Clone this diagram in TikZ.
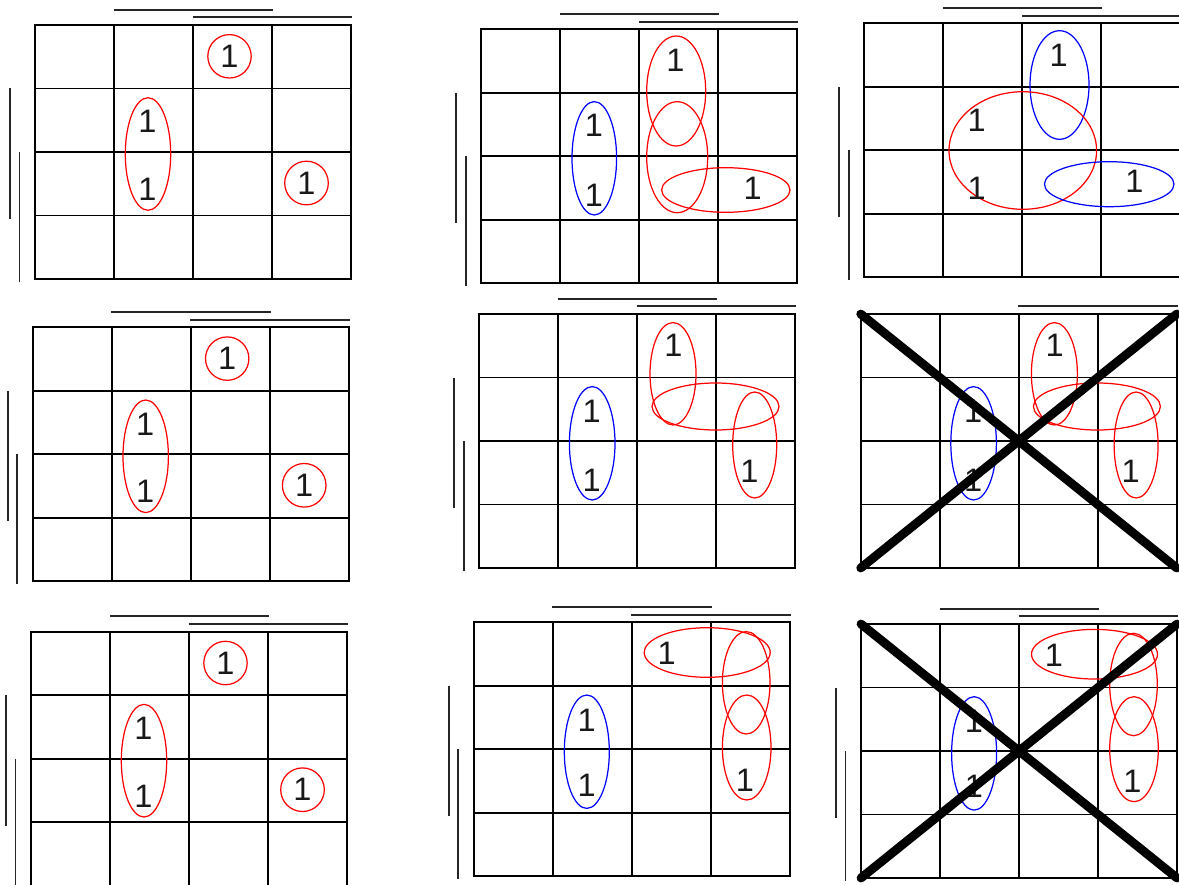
\documentclass[tikz,border=0pt]{standalone}
\usepackage{fontspec}
\setmainfont{Liberation Sans}
\usepackage{xcolor}
\usepackage{tikz}
\definecolor{groupred}{RGB}{255,0,0}
\definecolor{groupblue}{RGB}{0,0,255}

\begin{document}
\begin{tikzpicture}[x=0.02cm, y=-0.02cm,
    gridline/.style={line width=1pt, black},
    kbar/.style={line width=1.1pt, black!85},
    redloop/.style={draw=groupred, line width=0.7pt},
    blueloop/.style={draw=groupblue, line width=0.7pt},
    crossline/.style={line width=5pt, line cap=round, black},
    one/.style={inner sep=0pt, text=black!90, font=\fontsize{18.5}{20}\selectfont}]
  \useasboundingbox[fill=white] (0,0) rectangle (1179,885);
  \def \cw{79}
  \def \ch{63.5}
  % the nine 4x4 grids
  \foreach \ox/\oy in {35/25, 481.3/29.3, 864.3/23.3, 32.7/327.3, 479.3/314, 860.7/314, 31/631.7, 473.7/622.3, 861/624} {
    \begin{scope}[shift={(\ox,\oy)}]
      \draw[gridline] (0,0) rectangle (4*\cw,4*\ch);
      \foreach \i in {1,2,3} {
        \draw[gridline] (\i*\cw,0) -- (\i*\cw,4*\ch);
        \draw[gridline] (0,\i*\ch) -- (4*\cw,\i*\ch);
      }
    \end{scope}
  }
  % variable bars
  \foreach \ox/\oy in {35/25, 481.3/29.3, 864.3/23.3, 32.7/327.3, 479.3/314, 31/631.7, 473.7/622.3, 861/624} {
    \begin{scope}[shift={(\ox,\oy)}]
      \draw[kbar] (78.5,-15.3) -- (238,-15.3);
      \draw[kbar] (157.5,-7.6) -- (317,-7.6);
      \draw[kbar] (-25,63.5) -- (-25,194);
      \draw[kbar] (-15.5,127) -- (-15.5,257);
    \end{scope}
  }
  \begin{scope}[shift={(860.7,314)}]
    \draw[kbar] (157.5,-7.6) -- (317,-7.6);
  \end{scope}
  % left column
  \foreach \ox/\oy/\m in {35/25/1, 32.7/327.3/4, 31/631.7/7} {
    \begin{scope}[shift={(\ox,\oy)}]
      \draw[redloop] (194.5,31.3) circle [radius=21.7];
      \draw[redloop] (113,129) ellipse [x radius=22.7, y radius=56.3];
      \draw[redloop] (271.5,158) circle [radius=21.8];
      \node[one] (m\m-a) at (194.5,31.3) {1};
      \node[one] (m\m-b) at (112.5,96.8) {1};
      \node[one] (m\m-c) at (112.5,164.5) {1};
      \node[one] (m\m-d) at (271.5,158) {1};
    \end{scope}
  }
  % map 2
  \begin{scope}[shift={(481.3,29.3)}]
    \draw[redloop] (194.9,61.7) ellipse [x radius=29.5, y radius=55];
    \draw[redloop] (195.9,127.9) ellipse [x radius=30.5, y radius=55.5];
    \draw[redloop] (244.5,160.7) ellipse [x radius=64.2, y radius=22.3];
    \draw[blueloop] (113,129) ellipse [x radius=22.3, y radius=56.7];
    \node[one] (m2-a) at (194,30.7) {1};
    \node[one] (m2-b) at (112.7,95.7) {1};
    \node[one] (m2-c) at (112.7,165.7) {1};
    \node[one] (m2-d) at (271.4,159) {1};
  \end{scope}
  % map 3
  \begin{scope}[shift={(864.3,23.3)}]
    \draw[blueloop] (195.2,61.7) ellipse [x radius=29.5, y radius=54.3];
    \draw[redloop] (158.5,127.2) ellipse [x radius=73.8, y radius=58.8];
    \draw[blueloop] (244.9,160.9) ellipse [x radius=64.8, y radius=22.5];
    \node[one] (m3-a) at (194.4,31.7) {1};
    \node[one] (m3-b) at (112.4,96.7) {1};
    \node[one] (m3-c) at (112.4,165) {1};
    \node[one] (m3-d) at (270,158.4) {1};
  \end{scope}
  % maps 5 and 6
  \foreach \ox/\oy/\m in {479.3/314/5, 860.7/314/6} {
    \begin{scope}[shift={(\ox,\oy)}]
      \draw[redloop] (193.7,59.8) ellipse [x radius=23, y radius=51.2];
      \draw[redloop] (236.2,92.5) ellipse [x radius=63.5, y radius=23.5];
      \draw[redloop] (275.4,131) ellipse [x radius=22, y radius=53];
      \draw[blueloop] (112.9,129.3) ellipse [x radius=22.8, y radius=56.7];
      \node[one] (m\m-a) at (194,31) {1};
      \node[one] (m\m-b) at (112.4,97.7) {1};
      \node[one] (m\m-c) at (112.4,166) {1};
      \node[one] (m\m-d) at (270,157.7) {1};
    \end{scope}
  }
  % maps 8 and 9
  \foreach \ox/\oy/\m in {473.7/622.3/8, 861/624/9} {
    \begin{scope}[shift={(\ox,\oy)}]
      \draw[redloop] (233.5,30.2) ellipse [x radius=63, y radius=24.8];
      \draw[redloop] (272.5,60.5) ellipse [x radius=23.8, y radius=51.2];
      \draw[redloop] (273,125.2) ellipse [x radius=24.3, y radius=52.5];
      \draw[blueloop] (113.1,129.4) ellipse [x radius=22.5, y radius=56.7];
      \node[one] (m\m-a) at (193,31) {1};
      \node[one] (m\m-b) at (113,97.7) {1};
      \node[one] (m\m-c) at (113,162.7) {1};
      \node[one] (m\m-d) at (271.3,157.7) {1};
    \end{scope}
  }
  % crossed out
  \foreach \ox/\oy in {860.7/314, 861/624} {
    \begin{scope}[shift={(\ox,\oy)}]
      \draw[crossline] (0,0) -- (4*\cw,4*\ch);
      \draw[crossline] (0,4*\ch) -- (4*\cw,0);
    \end{scope}
  }
\end{tikzpicture}
\end{document}
